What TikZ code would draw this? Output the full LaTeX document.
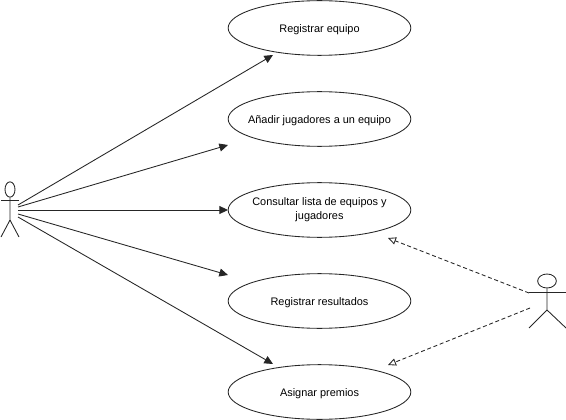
\documentclass[tikz,border=0pt]{standalone}
\usepackage{fontspec}
\setmainfont{Liberation Sans}
\usepackage{tikz}
\usetikzlibrary{arrows.meta, shapes.geometric}

\begin{document}
\begin{tikzpicture}[x=0.75pt, y=-0.75pt, line width=0.65pt, color=black!85,
      every node/.append style={font=\fontsize{8.2}{10.6}\selectfont},
      usecase/.style={draw, ellipse, minimum width=137pt, minimum height=41pt,
        inner xsep=-30pt, inner ysep=-6pt, align=center, text=black,
        execute at begin node={\rule{0pt}{8.2pt}}},
      head/.style={draw, ellipse, inner sep=0pt},
      solidarrow/.style={-{Triangle[length=6.5pt,width=6pt]}},
      dashedarrow/.style={densely dashed, -{Triangle[open,length=6pt,width=5.5pt]}}]
    \useasboundingbox (0,0) rectangle (566,420);
    % use cases
    \node (registrar) [usecase] at (319.5,28) {Registrar equipo};
    \node (anadir) [usecase] at (319.5,119) {Añadir jugadores a un equipo};
    \node (consultar) [usecase] at (319.5,210) {Consultar lista de equipos y\\jugadores};
    \node (resultados) [usecase] at (319.5,301) {Registrar resultados};
    \node (premios) [usecase] at (319.5,392) {Asignar premios};
    % left actor
    \node (headA) [head, minimum width=7.5pt, minimum height=11.5pt] at (10,189.5) {};
    \coordinate (armAl) at (1,200);
    \coordinate (armAr) at (19,200);
    \coordinate (hipA) at (10,220);
    \coordinate (legAl) at (1,237);
    \coordinate (legAr) at (19,237);
    \draw (headA.south) -- (hipA) -- (legAl);
    \draw (hipA) -- (legAr);
    \draw (armAl) -- (armAr);
    % right actor
    \node (headB) [head, minimum width=14pt, minimum height=10.5pt] at (547,281) {};
    \coordinate (armBl) at (529,292);
    \coordinate (armBr) at (566,292);
    \coordinate (hipB) at (547,310);
    \coordinate (legBl) at (529,328);
    \coordinate (legBr) at (566,328);
    \draw (headB.south) -- (hipB) -- (legBl);
    \draw (hipB) -- (legBr);
    \draw (armBl) -- (armBr);
    % free ends of the connectors
    \coordinate (startA) at (18,205);
    \coordinate (startB) at (18,207);
    \coordinate (startC) at (18,210);
    \coordinate (startD) at (18,214);
    \coordinate (startE) at (18,217);
    \coordinate (endA) at (273,55);
    \coordinate (endB) at (228,145);
    \coordinate (endC) at (228,210);
    \coordinate (endD) at (228,275);
    \coordinate (endE) at (273,364);
    \coordinate (startF) at (529,293);
    \coordinate (startG) at (530,308);
    \coordinate (endF) at (388,238);
    \coordinate (endG) at (388,365);
    \draw[solidarrow] (startA) -- (endA);
    \draw[solidarrow] (startB) -- (endB);
    \draw[solidarrow] (startC) -- (endC);
    \draw[solidarrow] (startD) -- (endD);
    \draw[solidarrow] (startE) -- (endE);
    \draw[dashedarrow] (startF) -- (endF);
    \draw[dashedarrow] (startG) -- (endG);
\end{tikzpicture}
\end{document}
